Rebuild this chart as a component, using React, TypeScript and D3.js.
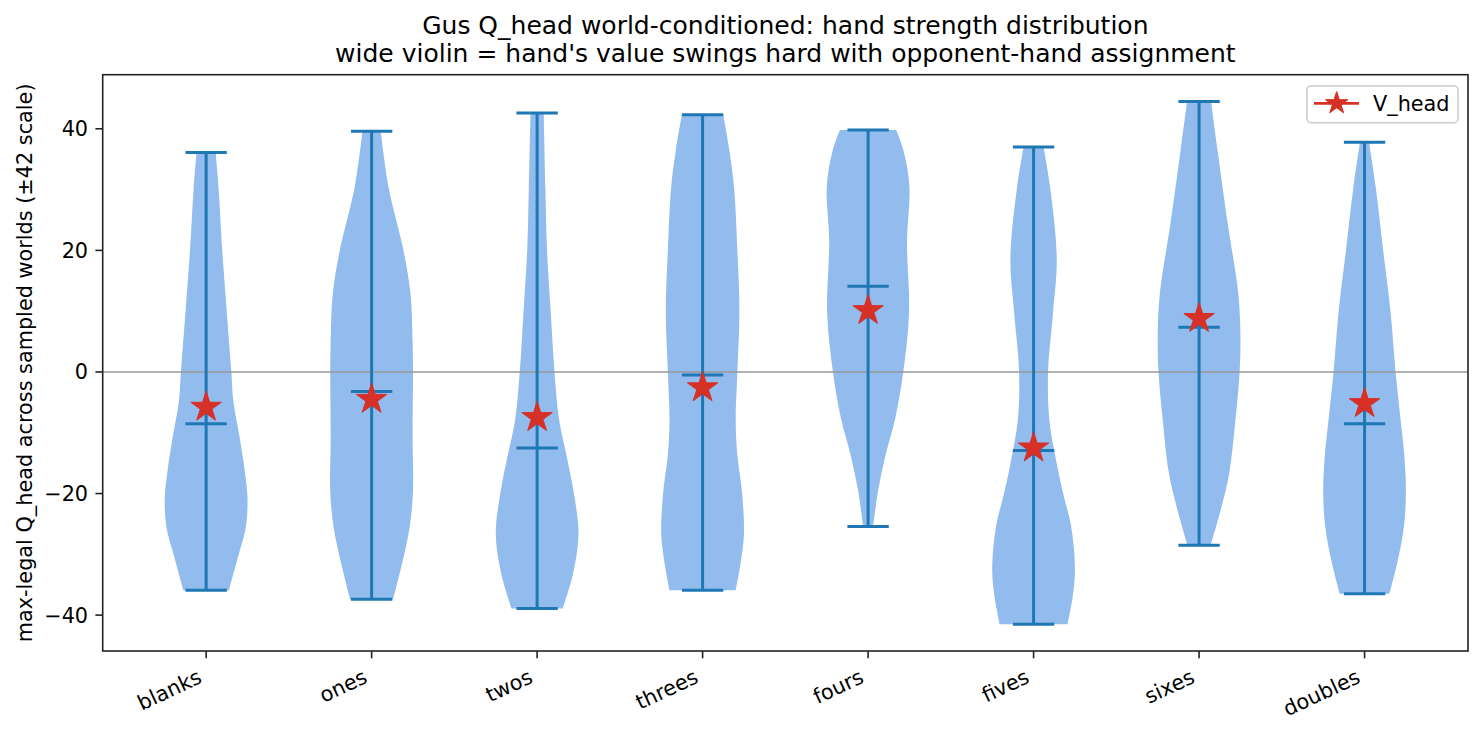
import * as d3 from 'd3';

// Violin plot of world-conditioned Q_head per hand type

const categories = ['blanks', 'ones', 'twos', 'threes', 'fours', 'fives', 'sixes', 'doubles'];

// KDE outline: [value, relative density (1 = widest)]
const blanksProfile = [[36.1, 0.23], [30.4, 0.3], [20, 0.39], [9.8, 0.5], [0, 0.61], [-4.9, 0.66], [-10.8, 0.81], [-16.6, 0.94], [-20.8, 1.0], [-25.5, 0.96], [-30.2, 0.78], [-35.9, 0.55]];
const onesProfile = [[39.6, 0.22], [30.4, 0.41], [20, 0.77], [12.8, 0.94], [5.1, 0.99], [0, 1.0], [-10.8, 0.99], [-19.6, 1.0], [-25.5, 0.92], [-31.4, 0.74], [-37.4, 0.52]];
const twosProfile = [[42.6, 0.16], [30.4, 0.2], [20, 0.24], [9.8, 0.33], [0, 0.42], [-7.8, 0.53], [-13.7, 0.71], [-19.6, 0.88], [-26.6, 1.0], [-33.1, 0.87], [-38.9, 0.62]];
const threesProfile = [[42.3, 0.5], [36.3, 0.65], [30.4, 0.76], [20, 0.84], [9.8, 0.89], [0, 0.84], [-7.8, 0.8], [-13.7, 0.84], [-19.6, 0.95], [-26.6, 1.0], [-31.4, 0.92], [-35.9, 0.8]];
const foursProfile = [[39.8, 0.68], [36.3, 0.86], [30.4, 1.0], [21.6, 0.94], [9.8, 0.99], [0, 0.85], [-7.8, 0.65], [-13.7, 0.42], [-19.6, 0.24], [-25.4, 0.12]];
const fivesProfile = [[37, 0.24], [30.4, 0.4], [18.6, 0.56], [9.8, 0.47], [0, 0.35], [-7.8, 0.38], [-13.7, 0.52], [-19.6, 0.7], [-25.5, 0.91], [-32.5, 1.0], [-37.2, 0.94], [-41.5, 0.82]];
const sixesProfile = [[44.5, 0.29], [36.3, 0.45], [24.5, 0.69], [12.8, 0.95], [5.7, 1.0], [0, 0.98], [-7.8, 0.88], [-16.6, 0.73], [-22.5, 0.53], [-28.5, 0.28]];
const doublesProfile = [[37.8, 0.11], [30.4, 0.27], [20, 0.45], [9.8, 0.63], [0, 0.75], [-7.8, 0.87], [-13.7, 0.96], [-19.6, 1.0], [-25.5, 0.95], [-31.4, 0.79], [-36.5, 0.6]];

const profiles = [blanksProfile, onesProfile, twosProfile, threesProfile, foursProfile, fivesProfile, sixesProfile, doublesProfile];

const medians = [-8.5, -3.2, -12.5, -0.5, 14.1, -12.9, 7.35, -8.5];
const vHead = [-5.8, -4.5, -7.5, -2.6, 10.1, -12.5, 8.8, -5.2];

const yTicks = [-40, -20, 0, 20, 40];

const W = 1484;
const H = 733;
const margin = { top: 74.7, right: 16, bottom: 82, left: 102.7 };
const FONT = '"DejaVu Sans", sans-serif';
const BLUE = '#1f77b4';
const FILL = 'rgba(74,144,226,0.6)';
const RED = '#d73027';

function starPath(cx: number, cy: number, r: number) {
  const pts: [number, number][] = [];
  for (let i = 0; i < 10; i++) {
    const rr = i % 2 === 0 ? r : r * 0.381966;
    const a = (Math.PI / 5) * i - Math.PI / 2;
    pts.push([cx + rr * Math.cos(a), cy + rr * Math.sin(a)]);
  }
  return 'M' + pts.map((p) => p.join(',')).join('L') + 'Z';
}

export default function App() {
  const innerW = W - margin.left - margin.right;
  const innerH = H - margin.top - margin.bottom;

  const x = d3.scaleLinear().domain([0.375, 8.625]).range([0, innerW]);
  const y = d3.scaleLinear().domain([-45.9, 48.9]).range([innerH, 0]);
  const halfW = x(1.25) - x(1); // widest half-width (width 0.5)
  const capW = x(1.125) - x(1);

  const area = (cx: number) =>
    d3
      .area<number[]>()
      .y((d) => y(d[0]))
      .x0((d) => cx - d[1] * halfW)
      .x1((d) => cx + d[1] * halfW)
      .curve(d3.curveCatmullRom.alpha(0.5));

  return (
    <svg
      width={W}
      height={H}
      style={{ position: 'absolute', left: 0, top: 0, background: '#fff' }}
      fontFamily={FONT}
    >
      {/* Title */}
      <text x={margin.left + innerW / 2} y={33.5} textAnchor="middle" fontSize={25} fill="#000">
        Gus Q_head world-conditioned: hand strength distribution
      </text>
      <text x={margin.left + innerW / 2} y={61.7} textAnchor="middle" fontSize={25} fill="#000">
        wide violin = hand's value swings hard with opponent-hand assignment
      </text>

      <g transform={`translate(${margin.left},${margin.top})`}>
        {/* Violin bodies */}
        {profiles.map((p, i) => (
          <path key={'v' + i} d={area(x(i + 1))(p) || ''} fill={FILL} stroke="none" />
        ))}

        {/* Zero line */}
        <line x1={0} x2={innerW} y1={y(0)} y2={y(0)} stroke="#999" strokeWidth={1.6} />

        {/* Extent bars, caps and medians */}
        {profiles.map((p, i) => {
          const cx = x(i + 1);
          const top = p[0][0];
          const bot = p[p.length - 1][0];
          return (
            <g key={'b' + i} stroke={BLUE} strokeWidth={3}>
              <line x1={cx} x2={cx} y1={y(top)} y2={y(bot)} />
              <line x1={cx - capW} x2={cx + capW} y1={y(top)} y2={y(top)} />
              <line x1={cx - capW} x2={cx + capW} y1={y(bot)} y2={y(bot)} />
              <line x1={cx - capW} x2={cx + capW} y1={y(medians[i])} y2={y(medians[i])} />
            </g>
          );
        })}

        {/* V_head stars */}
        {vHead.map((v, i) => (
          <path key={'s' + i} d={starPath(x(i + 1), y(v), 16)} fill={RED} stroke={RED} strokeWidth={1} />
        ))}

        {/* Spines */}
        <rect x={0} y={0} width={innerW} height={innerH} fill="none" stroke="#222" strokeWidth={1.6} />

        {/* Y axis */}
        {yTicks.map((t) => (
          <g key={'yt' + t} transform={`translate(0,${y(t)})`}>
            <line x1={-7.3} x2={0} stroke="#222" strokeWidth={1.6} />
            <text x={-14.6} dy="0.36em" textAnchor="end" fontSize={20.8} fill="#000">
              {t < 0 ? '\u2212' + Math.abs(t) : String(t)}
            </text>
          </g>
        ))}
        <text
          transform={`translate(${25 - margin.left},${innerH / 2}) rotate(-90)`}
          textAnchor="middle"
          dy="0.35em"
          fontSize={20.8}
          fill="#000"
        >
          max-legal Q_head across sampled worlds (±42 scale)
        </text>

        {/* X axis */}
        {categories.map((c, i) => (
          <g key={'xt' + c} transform={`translate(${x(i + 1)},${innerH})`}>
            <line y1={0} y2={7.3} stroke="#222" strokeWidth={1.6} />
            <text transform="translate(-3,31) rotate(-25)" textAnchor="end" fontSize={20.8} fill="#000">
              {c}
            </text>
          </g>
        ))}
      </g>

      {/* Legend */}
      <g>
        <rect x={1307} y={86} width={151} height={36.7} rx={4} fill="rgba(255,255,255,0.8)" stroke="#ccc" strokeWidth={1.6} />
        <line x1={1314} x2={1359} y1={103.3} y2={103.3} stroke={RED} strokeWidth={2.8} />
        <path d={starPath(1336.7, 103.3, 11.8)} fill={RED} stroke={RED} strokeWidth={1} />
        <text x={1373} y={103.3} dy="0.36em" fontSize={20.8} fill="#000">
          V_head
        </text>
      </g>
    </svg>
  );
}
